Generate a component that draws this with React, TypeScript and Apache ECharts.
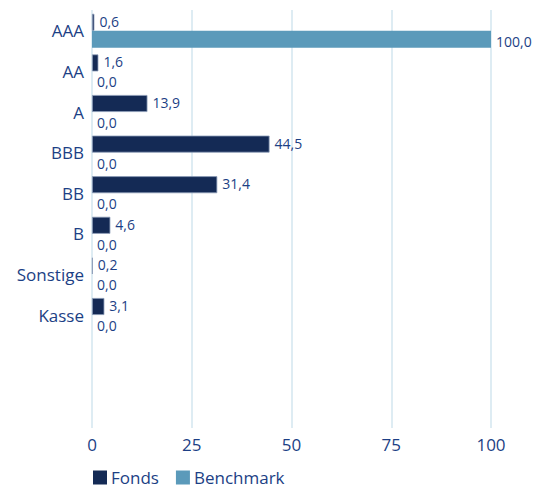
import React, { useEffect, useRef } from "react";
import * as echarts from "echarts";

const categories = ["AAA", "AA", "A", "BBB", "BB", "B", "Sonstige", "Kasse", "", " "];
const fondsValues = [0.6, 1.6, 13.9, 44.5, 31.4, 4.6, 0.2, 3.1];
const benchmarkValues = [100.0, 0.0, 0.0, 0.0, 0.0, 0.0, 0.0, 0.0];
const xTicks = [0, 25, 50, 75, 100];

const FONT = "'Open Sans', 'Noto Sans', sans-serif";
const TEXT = "#1c3f85";

export default function App() {
  const ref = useRef<HTMLDivElement>(null);
  useEffect(() => {
    if (!ref.current) return;
    const chart = echarts.init(ref.current, null, { renderer: "svg" });
    const fmt = (p: any) => Number(p.value).toFixed(1).replace(".", ",");
    const xMax = xTicks[xTicks.length - 1];
    const barLabel = (dy: number) => ({
      show: true,
      position: "right",
      distance: 5,
      offset: [0, dy],
      color: TEXT,
      fontSize: 14,
      lineHeight: 14,
      fontFamily: FONT,
      formatter: fmt,
    });
    chart.setOption({
      animation: false,
      textStyle: { fontFamily: FONT },
      grid: [
        { left: 92, right: 58, top: 10.5, height: 406, containLabel: false },
        { left: 92, right: 58, top: 10, height: 418, containLabel: false },
      ],
      legend: {
        left: 93,
        bottom: 4,
        padding: 0,
        itemWidth: 14,
        itemHeight: 14,
        itemGap: 17,
        icon: "rect",
        itemStyle: { borderWidth: 0 },
        textStyle: { color: TEXT, fontSize: 17, fontFamily: FONT, padding: [0, 0, 0, -1] },
        data: ["Fonds", "Benchmark"],
      },
      xAxis: [
        {
          gridIndex: 0,
          type: "value",
          min: 0,
          max: xMax,
          interval: 25,
          show: false,
          splitLine: { show: false },
        },
        {
          gridIndex: 1,
          type: "value",
          min: 0,
          max: xMax,
          interval: 25,
          axisLine: { show: false },
          axisTick: { show: false },
          axisLabel: { color: TEXT, fontSize: 17, fontFamily: FONT, margin: 8 },
          splitLine: { show: true, lineStyle: { color: "#d3e6ef", width: 1.5 } },
        },
      ],
      yAxis: [
        {
          gridIndex: 0,
          type: "category",
          inverse: true,
          data: categories,
          axisLine: { show: false },
          axisTick: { show: false },
          splitLine: { show: false },
          axisLabel: { color: TEXT, fontSize: 17, fontFamily: FONT, margin: 8 },
        },
        {
          gridIndex: 1,
          type: "value",
          show: false,
          splitLine: { show: false },
        },
      ],
      series: [
        {
          name: "Fonds",
          type: "bar",
          xAxisIndex: 0,
          yAxisIndex: 0,
          data: fondsValues,
          barWidth: 17,
          barGap: "0%",
          itemStyle: { color: "#142a55", borderColor: "#8c9cb8", borderWidth: 0.8 },
          label: barLabel(-1),
        },
        {
          name: "Benchmark",
          type: "bar",
          xAxisIndex: 0,
          yAxisIndex: 0,
          data: benchmarkValues,
          barWidth: 17,
          barGap: "0%",
          itemStyle: { color: "#5b9aba" },
          label: barLabel(2),
        },
      ],
    });
    return () => chart.dispose();
  }, []);
  return (
    <div
      ref={ref}
      style={{ position: "fixed", left: 0, top: 0, width: 549, height: 490, background: "#fff" }}
    />
  );
}
